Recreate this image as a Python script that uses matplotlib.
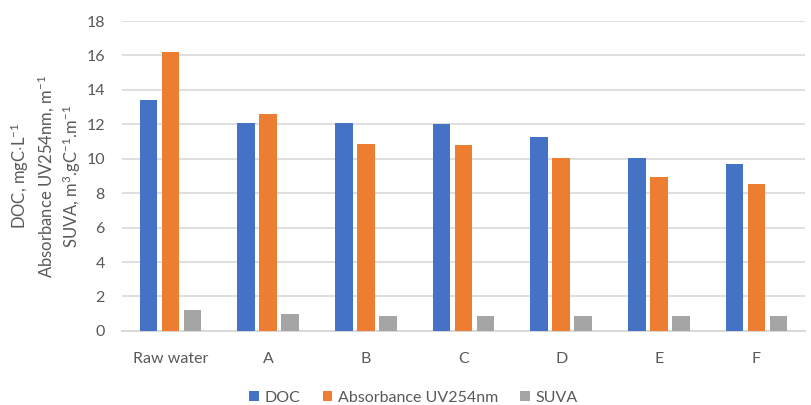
import numpy as np
import matplotlib
matplotlib.use("Agg")
import matplotlib.pyplot as plt

plt.rcParams['font.family'] = ['Lato', 'DejaVu Sans']
plt.rcParams['mathtext.fontset'] = 'custom'
plt.rcParams['mathtext.rm'] = 'Lato'
plt.rcParams['mathtext.it'] = 'Lato:italic'

# samples and measured values
samples = ["Raw water", "A", "B", "C", "D", "E", "F"]
doc = [13.4, 12.05, 12.05, 12.0, 11.25, 10.05, 9.7]
absorbance = [16.2, 12.6, 10.85, 10.8, 10.05, 8.95, 8.55]
suva = [1.2, 1.0, 0.85, 0.85, 0.85, 0.85, 0.85]

series = [("DOC", doc, "#4472c4"),
          ("Absorbance UV254nm", absorbance, "#ed7d31"),
          ("SUVA", suva, "#a5a5a5")]

fig = plt.figure(figsize=(8.11, 4.05), dpi=100)
ax = fig.add_axes([0.150, 0.183, 0.843, 0.765])

x = np.arange(len(samples))
w = 0.18
step = 0.225
for i, (name, vals, col) in enumerate(series):
    ax.bar(x + (i - 1) * step, vals, width=w, color=col, label=name, zorder=3)

ax.set_xlim(-0.5, len(samples) - 0.5)
ax.set_ylim(0, 18)
ax.set_yticks(np.arange(0, 19, 2))
ax.set_xticks(x)
ax.set_xticklabels(samples)
ax.tick_params(axis='both', length=0, labelsize=11.5, colors="#595959")
ax.tick_params(axis='y', pad=12)
ax.tick_params(axis='x', pad=15)
ax.grid(axis='y', color="#d9d9d9", linewidth=1.2, zorder=0)
for s in ["top", "right", "left"]:
    ax.spines[s].set_visible(False)
ax.spines["bottom"].set_color("#d9d9d9")
ax.spines["bottom"].set_linewidth(1.5)

ylab = ("DOC, mgC$\\cdot$L$^{-1}$\n"
        "Absorbance UV254nm, m$^{-1}$\n"
        "SUVA, m$^{3}$.gC$^{-1}$.m$^{-1}$")
fig.text(0.057, 0.565, ylab, rotation=90, ha='center', va='center',
         multialignment='center', fontsize=12, color="#595959", linespacing=1.25)

fig.legend(loc='center', bbox_to_anchor=(0.51, 0.018), ncol=3, frameon=False,
           fontsize=11.5, handlelength=0.6, handleheight=0.6, handletextpad=0.35,
           columnspacing=1.4, labelcolor="#595959", borderpad=0)

fig.savefig("out.png", dpi=100)
